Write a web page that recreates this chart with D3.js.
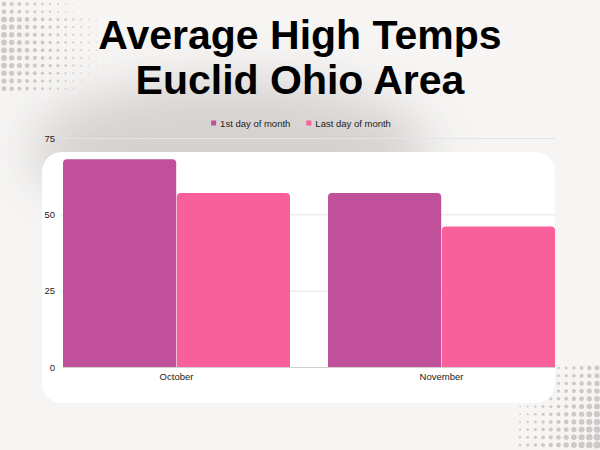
<!DOCTYPE html>
<html><head><meta charset="utf-8">
<script src="https://cdn.jsdelivr.net/npm/d3@7"></script>
<style>html,body{margin:0;padding:0;background:#f6f5f4;}svg{display:block;}</style>
</head><body>
<svg id="chart" width="600" height="450"></svg>
<script>
const categories = ["October", "November"];
const seriesNames = ["1st day of month", "Last day of month"];
const firstDay = [68, 57];
const lastDay = [57, 46];
const yTicks = [0, 25, 50, 75];
const colors = ["#c0509a", "#f95f9a"];

(function () {
const svg = d3.select("#chart");
const defs = svg.append("defs");
const flt = defs.append("filter").attr("id", "blur").attr("x", "-50%").attr("y", "-50%").attr("width", "200%").attr("height", "200%");
flt.append("feGaussianBlur").attr("stdDeviation", 25);

svg.append("rect").attr("width", 600).attr("height", 450).attr("fill", "#f6f5f4");
svg.append("ellipse").attr("cx", 230).attr("cy", 150).attr("rx", 200).attr("ry", 70)
  .attr("fill", "#d2cfcd").attr("filter", "url(#blur)").attr("opacity", 0.9);

function dots(ox, oy, cols, rows, sizeFn) {
  const g = svg.append("g");
  for (let i = 0; i < cols; i++) for (let j = 0; j < rows; j++) {
    const r = sizeFn(i, j);
    if (r > 0.3) g.append("circle").attr("cx", ox + i * 7.7).attr("cy", oy + j * 7.7).attr("r", r).attr("fill", "#cdc9c8");
  }
}
dots(4, 4, 14, 12, (i, j) => Math.max(0, 2.9 - i * 0.2 - (j < 2 ? 0.6 : 0) - Math.max(0, j - 8) * 0.15));
dots(520, 368, 11, 11, (i, j) => Math.max(0, 0.1 + i * 0.23 + j * 0.12));

const fam = "Liberation Sans, Arial, sans-serif";
svg.append("text").attr("x", 300).attr("y", 49).attr("text-anchor", "middle")
  .attr("font-family", fam).attr("font-weight", "bold").attr("font-size", 41)
  .attr("fill", "#000").text("Average High Temps");
svg.append("text").attr("x", 300).attr("y", 94).attr("text-anchor", "middle")
  .attr("font-family", fam).attr("font-weight", "bold").attr("font-size", 41)
  .attr("fill", "#000").text("Euclid Ohio Area");

svg.append("rect").attr("x", 42).attr("y", 152).attr("width", 513).attr("height", 251).attr("rx", 20)
  .attr("fill", "#ffffff");

const pl = 63, pr = 555, pt = 138, pb = 367;
const x0 = d3.scaleBand().domain(categories).range([pl, pr]).paddingInner(0.1434).paddingOuter(0);
const x1 = d3.scaleBand().domain(seriesNames).range([0, x0.bandwidth()]).paddingInner(0.005);
const y = d3.scaleLinear().domain([0, 75]).range([pb, pt]);

svg.append("g").selectAll("line").data(yTicks.filter(d => d > 0)).join("line")
  .attr("x1", pl - 3).attr("x2", pr).attr("y1", d => y(d) + 0.5).attr("y2", d => y(d) + 0.5)
  .attr("stroke", "#e4e4e4").attr("stroke-width", 1);

const yAxis = d3.axisLeft(y).tickValues(yTicks).tickSize(0).tickPadding(8);
const yg = svg.append("g").attr("transform", `translate(${pl},0)`).call(yAxis);
yg.select(".domain").remove();
yg.selectAll("text").attr("font-family", fam).attr("font-size", 9.5).attr("fill", "#222");

const data = categories.map((c, i) => ({ cat: c, vals: [firstDay[i], lastDay[i]] }));
const groups = svg.append("g").selectAll("g").data(data).join("g")
  .attr("transform", d => `translate(${x0(d.cat)},0)`);
function barPath(x, yTop, w, h, r) {
  r = Math.min(r, h, w / 2);
  return `M${x},${yTop + h}V${yTop + r}Q${x},${yTop} ${x + r},${yTop}H${x + w - r}Q${x + w},${yTop} ${x + w},${yTop + r}V${yTop + h}Z`;
}
groups.selectAll("path").data(d => d.vals.map((v, k) => ({ v, k }))).join("path")
  .attr("d", d => barPath(x1(seriesNames[d.k]), y(d.v), x1.bandwidth(), pb - y(d.v), 4))
  .attr("fill", d => colors[d.k]);

svg.append("line").attr("x1", pl).attr("x2", pr).attr("y1", pb + 0.5).attr("y2", pb + 0.5)
  .attr("stroke", "#d0d0d0");

const xAxis = d3.axisBottom(x0).tickSize(0).tickPadding(6);
const xg = svg.append("g").attr("transform", `translate(0,${pb})`).call(xAxis);
xg.select(".domain").remove();
xg.selectAll("text").attr("font-family", fam).attr("font-size", 9.5).attr("fill", "#222");

const legend = svg.append("g").attr("font-family", fam).attr("font-size", 9.5);
const items = legend.selectAll("g").data(seriesNames).join("g");
let cx = 0;
items.each(function (d, i) {
  const g = d3.select(this);
  g.append("rect").attr("x", 0).attr("y", -2.5).attr("width", 5).attr("height", 5).attr("fill", colors[i]);
  const t = g.append("text").attr("x", 9).attr("y", 3.5).attr("fill", "#222").text(d);
  const w = 9 + t.node().getComputedTextLength();
  g.attr("transform", `translate(${cx},0)`);
  cx += w + 16;
});
const totalW = cx - 16;
legend.attr("transform", `translate(${301 - totalW / 2},123)`);
})();
</script>
</body></html>
